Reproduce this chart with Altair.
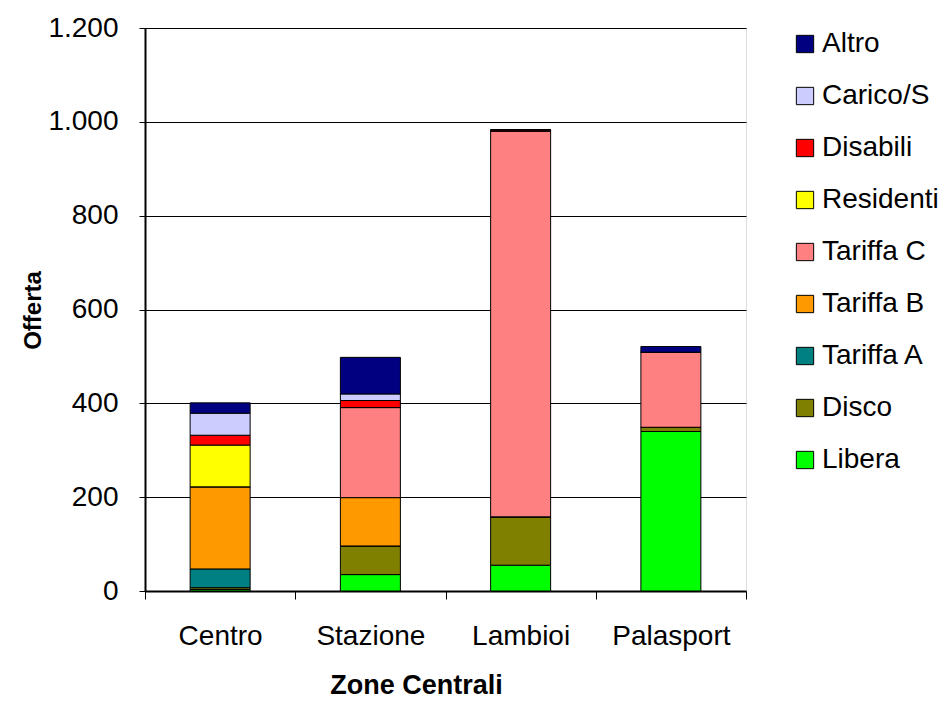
import altair as alt
import pandas as pd

zones = ["Centro", "Stazione", "Lambioi", "Palasport"]
series = ["Libera", "Disco", "Tariffa A", "Tariffa B", "Tariffa C",
          "Residenti", "Disabili", "Carico/S", "Altro"]
colors = ["#00FF00", "#808000", "#008080", "#FF9900", "#FF8080",
          "#FFFF00", "#FF0000", "#CCCCFF", "#000080"]

libera    = [3, 35, 55, 340]
disco     = [4, 61, 103, 9]
tariffa_a = [40, 0, 0, 0]
tariffa_b = [175, 103, 0, 0]
tariffa_c = [0, 192, 822, 160]
residenti = [89, 0, 0, 0]
disabili  = [21, 15, 3, 0]
carico    = [47, 14, 0, 0]
altro     = [22, 78, 0, 12]

values = [libera, disco, tariffa_a, tariffa_b, tariffa_c,
          residenti, disabili, carico, altro]

rows = []
for si, (s, vals) in enumerate(zip(series, values)):
    for z, v in zip(zones, vals):
        rows.append({"Zona": z, "Serie": s, "Valore": v, "ord": si})
df = pd.DataFrame(rows)

font = "Liberation Sans"

chart = alt.Chart(df).mark_bar(
    stroke="black", strokeWidth=1, size=60
).encode(
    x=alt.X("Zona:N", sort=zones, title="Zone Centrali",
            scale=alt.Scale(paddingInner=0, paddingOuter=0),
            axis=alt.Axis(labelAngle=0, tickBand="extent", tickSize=8,
                          labelPadding=23, labelFontSize=28, labelFont=font,
                          labelColor="black", domainColor="black",
                          tickColor="black", titleFont=font, titleFontSize=27,
                          titleFontWeight="bold", titleColor="black",
                          titleX=271, titleY=94, titleBaseline="middle",
                          domainWidth=2)),
    y=alt.Y("Valore:Q", stack="zero", title="Offerta",
            scale=alt.Scale(domain=[0, 1200], nice=False),
            axis=alt.Axis(values=[0, 200, 400, 600, 800, 1000, 1200],
                          labelExpr="replace(format(datum.value, ',d'), ',', '.')",
                          tickSize=6, labelPadding=21, labelFontSize=28,
                          labelFont=font, labelColor="black",
                          domainColor="black", tickColor="black",
                          gridColor="black", gridWidth=1, domainWidth=2,
                          titleFont=font, titleFontSize=24,
                          titleFontWeight="bold", titleColor="black",
                          titleAngle=-90, titleX=-112, titleY=282,
                          titleAlign="center", titleBaseline="middle")),
    color=alt.Color("Serie:N",
                    scale=alt.Scale(domain=series[::-1], range=colors[::-1]),
                    legend=alt.Legend(title=None, orient="none",
                                      legendX=646, legendY=2,
                                      symbolType="square", symbolSize=300,
                                      symbolStrokeColor="black",
                                      symbolStrokeWidth=1,
                                      labelFontSize=28, labelFont=font,
                                      labelColor="black", rowPadding=24,
                                      labelOffset=3)),
    order=alt.Order("ord:Q", sort="ascending"),
).properties(
    width=601, height=563,
    autosize=alt.AutoSizeParams(type="none"),
    padding={"left": 137, "top": 20, "right": 194, "bottom": 107},
).configure_view(
    stroke="black", strokeWidth=2
).configure(background="white")

chart.save("out.html", embed_options={"renderer": "svg", "actions": False})
